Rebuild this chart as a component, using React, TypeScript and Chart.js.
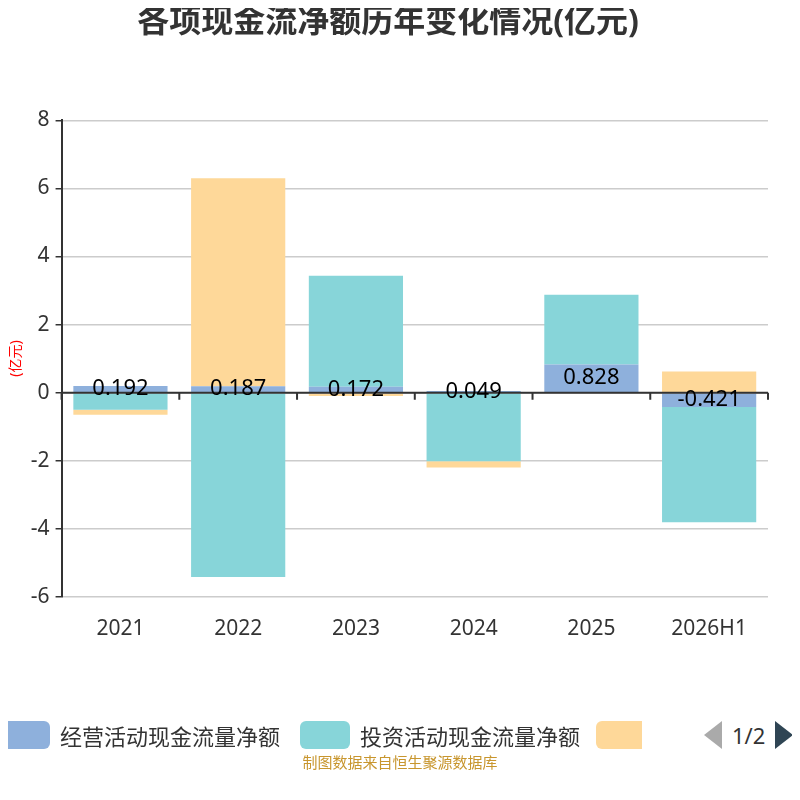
import React, { useEffect, useRef } from "react";
import { Chart, registerables } from "chart.js";
Chart.register(...registerables);

const categories = ["2021", "2022", "2023", "2024", "2025", "2026H1"];
const operating = [0.192, 0.187, 0.172, 0.049, 0.828, -0.421];
const investing = [-0.5, -5.42, 3.26, -2.02, 2.05, -3.39];
const financing = [-0.15, 6.11, -0.1, -0.18, 0, 0.62];
const seriesNames = ["经营活动现金流量净额", "投资活动现金流量净额", "筹资活动现金流量净额"];
const colors = ["#8eb0dc", "#87d5d9", "#fed899"];
const FONT = "'Noto Sans', 'Noto Sans CJK SC', sans-serif";

export default function App() {
  const ref = useRef<HTMLCanvasElement>(null);
  useEffect(() => {
    const zeroPlugin = {
      id: "zero",
      afterDatasetsDraw(chart: any) {
        const { ctx, scales, chartArea } = chart;
        const y0 = scales.y.getPixelForValue(0);
        ctx.save();
        ctx.strokeStyle = "#333";
        ctx.lineWidth = 2;
        ctx.beginPath();
        ctx.moveTo(chartArea.left, y0);
        ctx.lineTo(chartArea.right, y0);
        const n = categories.length;
        const w = (chartArea.right - chartArea.left) / n;
        for (let i = 0; i <= n; i++) {
          const x = chartArea.left + i * w;
          ctx.moveTo(x, y0);
          ctx.lineTo(x, y0 + 7);
        }
        ctx.stroke();
        const meta = chart.getDatasetMeta(0);
        ctx.fillStyle = "#000";
        ctx.font = `22px ${FONT}`;
        ctx.textAlign = "center";
        ctx.textBaseline = "middle";
        meta.data.forEach((bar: any, i: number) => {
          ctx.fillText(String(operating[i]), bar.x, (bar.y + bar.base) / 2);
        });
        ctx.restore();
      },
    };
    const chart = new Chart(ref.current!, {
      type: "bar",
      data: {
        labels: categories,
        datasets: [operating, investing, financing].map((d, i) => ({
          label: seriesNames[i],
          data: d,
          backgroundColor: colors[i],
          barPercentage: 0.8,
          categoryPercentage: 1,
        })),
      },
      options: {
        animation: false,
        responsive: false,
        layout: { padding: { left: 8, right: 32, top: 0, bottom: 146 } },
        plugins: {
          legend: { display: false },
          tooltip: { enabled: false },
          title: {
            display: true,
            text: "各项现金流净额历年变化情况(亿元)",
            color: "#333",
            font: { family: FONT, size: 32, weight: "bold" },
            padding: { top: 4, bottom: 78 },
          },
        },
        scales: {
          x: {
            stacked: true,
            grid: { display: false },
            border: { display: false },
            ticks: { color: "#333", font: { family: FONT, size: 21 }, padding: 12 },
          },
          y: {
            stacked: true,
            min: -6,
            max: 8,
            ticks: { stepSize: 2, color: "#333", font: { family: FONT, size: 21 }, padding: 6 },
            grid: { color: "#ccc", lineWidth: 1.5, tickColor: "#333", tickLength: 6 },
            border: { color: "#333", width: 2 },
            title: { display: true, text: "(亿元)", color: "red", font: { family: FONT, size: 14 }, padding: 0 },
          },
        },
      },
      plugins: [zeroPlugin],
    });
    return () => chart.destroy();
  }, []);
  const box = (c: string) => ({ display: "inline-block", width: 50, height: 28, borderRadius: 6, background: c, marginRight: 10 });
  return (
    <div style={{ position: "relative", width: 800, height: 800, margin: -8, overflow: "hidden", fontFamily: FONT }}>
      <canvas ref={ref} width={800} height={800} style={{ position: "absolute", left: 0, top: 0 }} />
      <div style={{ position: "absolute", left: 0, top: 718, width: 800, height: 34, display: "flex", alignItems: "center", fontSize: 22, color: "#333", whiteSpace: "nowrap" }}>
        <span style={box(colors[0])} />
        <span style={{ marginRight: 20 }}>{seriesNames[0]}</span>
        <span style={box(colors[1])} />
        <span style={{ marginRight: 16 }}>{seriesNames[1]}</span>
        <span style={{ ...box(colors[2]), width: 46, borderRadius: "6px 0 0 6px" }} />
        <span style={{ position: "absolute", left: 684, width: 116, height: 34, background: "#fff", display: "flex", alignItems: "center" }}>
          <span style={{ width: 0, height: 0, borderTop: "14px solid transparent", borderBottom: "14px solid transparent", borderRight: "18px solid #aaa", marginLeft: 20 }} />
          <span style={{ margin: "0 10px" }}>1/2</span>
          <span style={{ width: 0, height: 0, borderTop: "14px solid transparent", borderBottom: "14px solid transparent", borderLeft: "18px solid #2f4554" }} />
        </span>
      </div>
      <div style={{ position: "absolute", top: 751, width: 800, textAlign: "center", fontSize: 15, color: "#c8962e" }}>制图数据来自恒生聚源数据库</div>
    </div>
  );
}
